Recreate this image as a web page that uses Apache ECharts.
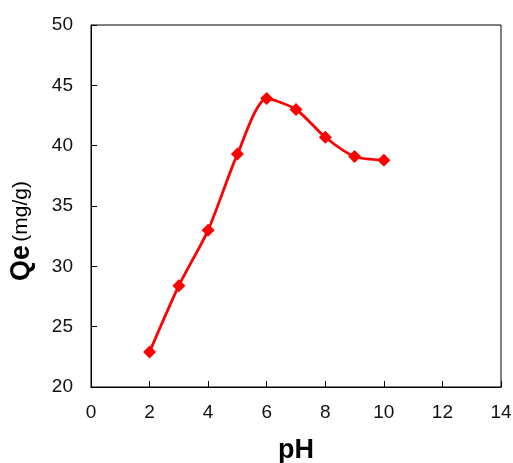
<!DOCTYPE html>
<html>
<head>
<meta charset="utf-8">
<script src="https://cdn.jsdelivr.net/npm/echarts@6/dist/echarts.min.js"></script>
<style>
html, body { margin: 0; padding: 0; background: #fff; }
#chart { width: 513px; height: 463px; }
</style>
</head>
<body>
<div id="chart"></div>
<script>
var phValues = [2, 3, 4, 5, 6, 7, 8, 9, 10]; //pH
var qeValues = [22.9, 28.4, 33.0, 39.3, 43.9, 43.0, 40.7, 39.1, 38.8]; //Qe (mg/g)

var points = [];
for (var i = 0; i < phValues.length; i++) {
	points.push([phValues[i], qeValues[i]]);
}

var myChart = echarts.init(document.getElementById('chart'));
var font = 'Liberation Sans, Arial, sans-serif';
option = {
	animation: false,
	grid: {
		left: 91,
		right: 12,
		top: 25,
		bottom: 76,
		containLabel: false,
		outerBoundsMode: 'none',
		show: true,
		borderColor: '#000',
		borderWidth: 1
	},
	xAxis: {
		type: 'value',
		min: 0,
		max: 14,
		interval: 2,
		name: 'pH',
		nameLocation: 'middle',
		nameGap: 50,
		nameTextStyle: {
			fontFamily: font,
			fontSize: 27,
			fontWeight: 'bold',
			color: '#000'
		},
		axisLine: { lineStyle: { color: '#000', width: 1 } },
		axisTick: { inside: true, length: 6, lineStyle: { color: '#000' } },
		axisLabel: { fontFamily: font, fontSize: 19, color: '#111', margin: 16 },
		splitLine: { show: false }
	},
	yAxis: {
		type: 'value',
		min: 20,
		max: 50,
		interval: 5,
		name: '{b|Qe} {n|(mg/g)}',
		nameLocation: 'middle',
		nameGap: 56,
		nameTextStyle: {
			padding: [0, 50, 0, 0],
			rich: {
				b: { fontFamily: font, fontSize: 27, fontWeight: 'bold', color: '#000' },
				n: { fontFamily: font, fontSize: 21, color: '#000' }
			}
		},
		axisLine: { lineStyle: { color: '#000', width: 1 } },
		axisTick: { inside: true, length: 6, lineStyle: { color: '#000' } },
		axisLabel: { fontFamily: font, fontSize: 19, color: '#111', margin: 18 },
		splitLine: { show: false }
	},
	series: [{
		type: 'line',
		data: points,
		smooth: 0.25,
		symbol: 'diamond',
		symbolSize: 13,
		itemStyle: { color: '#ff0000' },
		lineStyle: { color: '#ff0000', width: 2.8 }
	}]
};
myChart.setOption(option);
</script>
</body>
</html>
